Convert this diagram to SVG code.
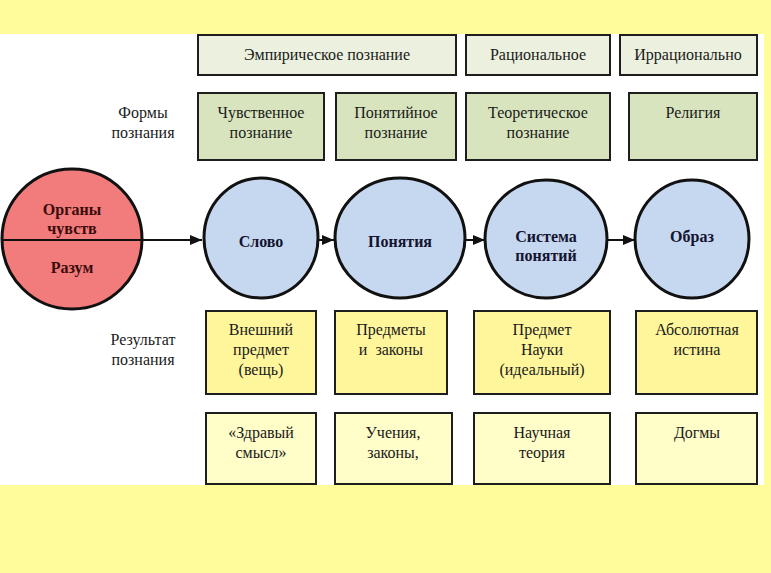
<svg xmlns="http://www.w3.org/2000/svg" width="771" height="573" viewBox="0 0 771 573" font-family="Liberation Serif, DejaVu Serif, serif">
<style>
text{font-family:'Liberation Serif','DejaVu Serif',serif;font-size:16px;fill:#1a1a1a;text-anchor:middle}
.b{stroke:#1e1e1e;stroke-width:2}
.top{fill:#EBF1DE}
.form{fill:#D7E4BD}
.res{fill:#FFF69C}
.res2{fill:#FFFDC8}
.circ{fill:#C6D8EF;stroke:#111;stroke-width:3}
.red{fill:#F27B7B;stroke:#111;stroke-width:3}
.bold{font-weight:bold;fill:#141430}
.rt{font-weight:bold;fill:#3a0c0c}
.lbl{fill:#2a2a2a}
.conn{stroke:#111;stroke-width:2;fill:none}
</style>
<defs>
<marker id="arr" viewBox="0 0 12 10" refX="12" refY="5" markerWidth="12" markerHeight="10" markerUnits="userSpaceOnUse" orient="auto">
<path d="M0,0 L12,5 L0,10 Z" fill="#111"/>
</marker>
</defs>
<rect x="0" y="0" width="771" height="573" fill="#FEFD99"/>
<rect x="0" y="34" width="764" height="451" fill="#FFFFFF"/>

<g id="hdr-emp"><rect class="b top" x="198" y="35" width="258" height="40"/><text x="327" y="60">Эмпирическое познание</text></g>
<g id="hdr-rat"><rect class="b top" x="466" y="35" width="144" height="40"/><text x="538" y="60">Рациональное</text></g>
<g id="hdr-irr"><rect class="b top" x="620" y="35" width="137" height="40"/><text x="688" y="60">Иррационально</text></g>

<g id="lbl-forms" class="lbl"><text x="143" y="118">Формы</text><text x="143" y="138">познания</text></g>
<g id="form-1"><rect class="b form" x="198" y="93" width="126" height="67"/><text x="261" y="118">Чувственное</text><text x="261" y="138">познание</text></g>
<g id="form-2"><rect class="b form" x="336" y="93" width="120" height="67"/><text x="396" y="118">Понятийное</text><text x="396" y="138">познание</text></g>
<g id="form-3"><rect class="b form" x="466" y="93" width="144" height="67"/><text x="538" y="118">Теоретическое</text><text x="538" y="138">познание</text></g>
<g id="form-4"><rect class="b form" x="629" y="93" width="128" height="67"/><text x="693" y="118">Религия</text></g>

<g id="connectors">
<line class="conn" x1="2" y1="240" x2="202" y2="240" marker-end="url(#arr)"/>
<line class="conn" x1="318" y1="240" x2="334" y2="240" marker-end="url(#arr)"/>
<line class="conn" x1="466" y1="240" x2="485" y2="240" marker-end="url(#arr)"/>
<line class="conn" x1="607" y1="240" x2="635" y2="240" marker-end="url(#arr)"/>
</g>

<g id="organs"><circle class="red" cx="72" cy="239" r="70"/><line x1="2" y1="240" x2="142" y2="240" stroke="#111" stroke-width="2"/><text class="rt" x="72" y="215">Органы</text><text class="rt" x="72" y="234">чувств</text><text class="rt" x="72" y="273">Разум</text></g>
<g id="slovo"><ellipse class="circ" cx="261" cy="238" rx="57" ry="60"/><text class="bold" x="261" y="247">Слово</text></g>
<g id="ponyatiya"><ellipse class="circ" cx="400" cy="238" rx="65" ry="60"/><text class="bold" x="400" y="247">Понятия</text></g>
<g id="sistema"><ellipse class="circ" cx="546" cy="239" rx="61" ry="59"/><text class="bold" x="546" y="242">Система</text><text class="bold" x="546" y="261">понятий</text></g>
<g id="obraz"><ellipse class="circ" cx="692" cy="239" rx="57" ry="59"/><text class="bold" x="692" y="242">Образ</text></g>

<g id="lbl-result" class="lbl"><text x="143" y="345">Результат</text><text x="143" y="365">познания</text></g>
<g id="res-1"><rect class="b res" x="206" y="311" width="110" height="83"/><text x="261" y="335">Внешний</text><text x="261" y="355">предмет</text><text x="261" y="375">(вещь)</text></g>
<g id="res-2"><rect class="b res" x="335" y="311" width="112" height="83"/><text x="391" y="335">Предметы</text><text x="391" y="355" xml:space="preserve">и  законы</text></g>
<g id="res-3"><rect class="b res" x="474" y="311" width="136" height="83"/><text x="542" y="335">Предмет</text><text x="542" y="355">Науки</text><text x="542" y="375">(идеальный)</text></g>
<g id="res-4"><rect class="b res" x="636" y="311" width="121" height="83"/><text x="697" y="335">Абсолютная</text><text x="697" y="355">истина</text></g>

<g id="res2-1"><rect class="b res2" x="206" y="413" width="110" height="71"/><text x="261" y="438">«Здравый</text><text x="261" y="458">смысл»</text></g>
<g id="res2-2"><rect class="b res2" x="335" y="413" width="117" height="71"/><text x="393" y="438">Учения,</text><text x="393" y="458">законы,</text></g>
<g id="res2-3"><rect class="b res2" x="474" y="413" width="136" height="71"/><text x="542" y="438">Научная</text><text x="542" y="458">теория</text></g>
<g id="res2-4"><rect class="b res2" x="636" y="413" width="121" height="71"/><text x="697" y="438">Догмы</text></g>
</svg>
